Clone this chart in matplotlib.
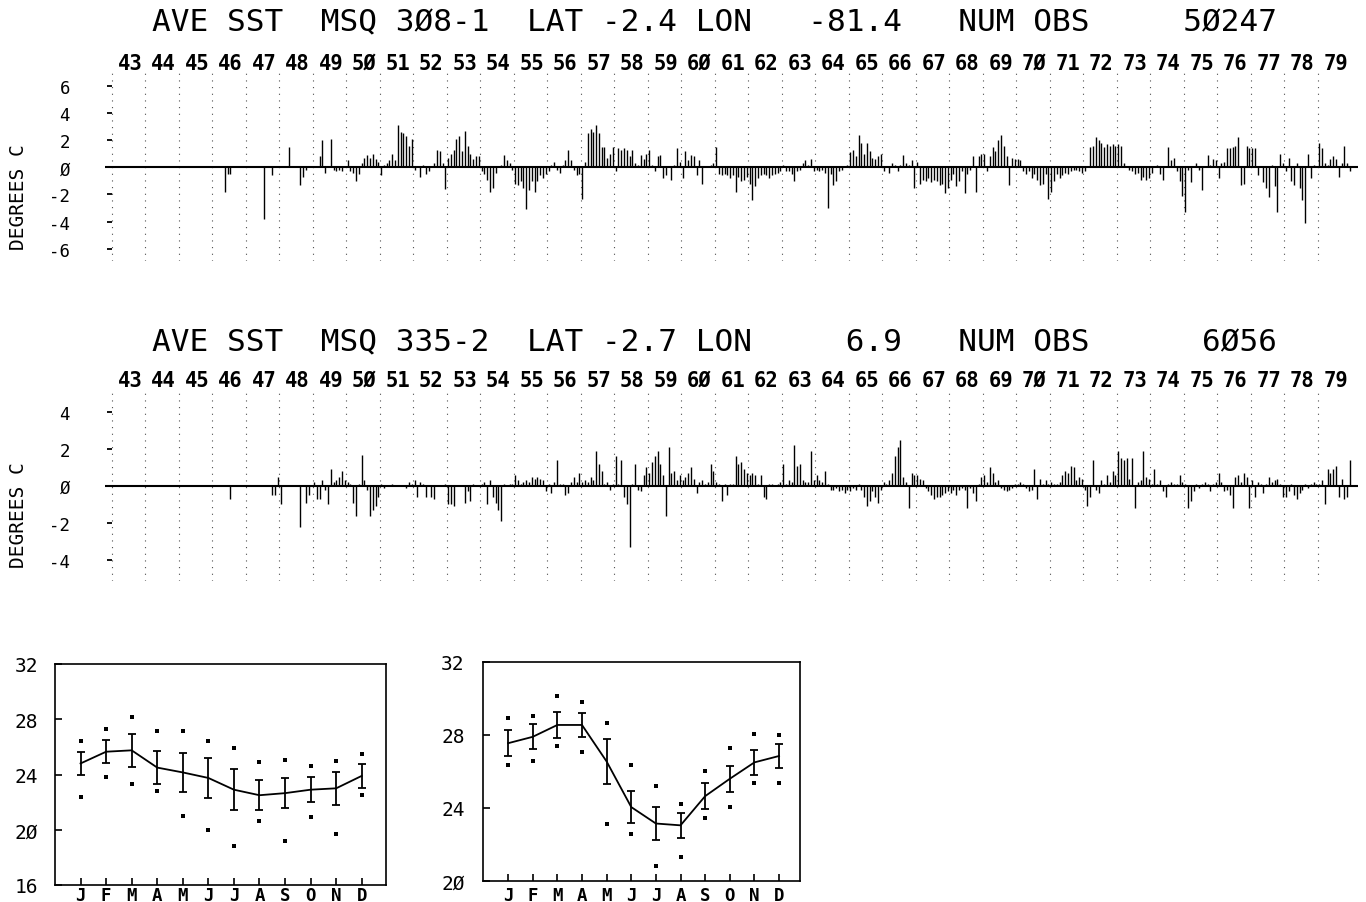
import matplotlib.pyplot as plt
import numpy as np

# monthly SST anomalies (deg C), Jan 1943 .. Dec 1979, one row per year
anom_308 = [
    0, 0, 0, 0, 0, 0, 0, 0, 0, 0, 0, 0,                                # 43
    0, 0, 0, 0, 0, 0, 0, 0, 0, 0, 0, 0,                                # 44
    0, 0, 0, 0, 0, 0, 0, 0, 0, 0, 0, 0,                                # 45
    0, 0, 0, 0, -1.8, -0.5, -0.5, 0, 0, 0, 0, 0,                       # 46
    0, 0, 0, 0, 0, 0, -3.8, 0, 0, -0.6, 0, 0,                          # 47
    0, 0, 0, 1.5, 0, 0, 0, -1.3, -0.7, -0.2, 0, 0,                     # 48
    0, 0, 0.8, 2.0, -0.4, 0, 2.1, -0.2, -0.3, -0.2, -0.3, 0.1,         # 49
    0.5, -0.3, -0.4, -1.0, -0.5, 0.3, 0.7, 0.9, 0.7, 1.0, 0.6, 0.4,    # 50
    -0.6, 0.2, 0.3, 0.5, 1.0, 0.5, 3.1, 2.6, 2.5, 2.3, 1.6, 2.1,       # 51
    -0.2, 0.1, -0.7, 0.2, -0.5, -0.3, 0.1, 0.3, 1.3, 1.2, 0.3, -1.6,   # 52
    0.7, 1.0, 1.3, 2.1, 2.3, 1.2, 2.7, 1.6, 1.0, 0.6, 0.8, 0.8,        # 53
    -0.3, -0.5, -0.9, -1.8, -1.5, -0.4, 0.1, 0.2, 0.9, 0.5, 0.3, -0.2, # 54
    -1.2, -1.3, -1.0, -1.5, -3.1, -1.7, -1.0, -1.8, -1.0, -0.6, -0.8, -0.5,  # 55
    -0.3, 0.2, 0.4, -0.2, -0.4, 0.2, 0.5, 1.3, 0.5, -0.2, -0.6, -0.5,  # 56
    -2.3, 0.4, 2.5, 2.8, 2.6, 3.1, 2.5, 1.5, 1.5, 0.7, 1.0, 1.5,       # 57
    -0.3, 1.4, 1.3, 1.4, 1.3, 0.8, 1.3, 0.3, 0.2, 0.9, 0.6, 1.0,       # 58
    1.3, 0.2, -0.3, 0.8, 0.9, -0.8, -0.6, 0.1, -0.9, 0.2, 1.4, 0.4,    # 59
    -0.8, 1.2, 0.5, 0.9, 0.8, -0.6, 0.5, -1.2, 0.1, 0.1, 0.2, 0.3,     # 60
    1.5, -0.5, -0.6, -0.5, -0.6, -0.8, -0.6, -1.8, -0.7, -1.0, -0.9, -0.7,   # 61
    -1.2, -2.4, -1.4, -0.8, -0.6, -0.5, -0.6, -0.8, -0.6, -0.5, -0.4, -0.3,  # 62
    0.2, -0.3, -0.3, -0.5, -1.0, -0.3, -0.2, 0.3, 0.5, 0.2, 0.6, -0.3,  # 63
    -0.2, -0.3, -0.2, -0.4, -3.0, -0.5, -1.3, -1.0, -0.3, -0.2, 0.1, 0.2,  # 64
    1.1, 1.3, 0.8, 2.4, 1.8, 1.0, 1.8, 1.2, 0.7, 0.6, 0.8, 1.0,        # 65
    -0.3, 0.1, -0.4, 0.3, 0.2, -0.3, 0.2, 0.9, 0.3, 0.2, 0.5, -1.5,    # 66
    0.4, -1.2, -0.9, -1.0, -0.8, -1.1, -0.9, -1.0, -1.3, -1.2, -1.9, -1.5,  # 67
    -0.9, -0.5, -1.4, -1.0, -0.3, -1.9, -0.5, -0.2, 0.8, -1.8, 0.8, 1.0,   # 68
    1.0, -0.3, 0.8, 1.5, 1.2, 2.0, 2.4, 1.6, 0.8, -1.3, 0.7, 0.6,      # 69
    0.6, 0.5, -0.3, -0.5, -0.3, -0.8, -0.5, -0.9, -1.3, -1.2, -0.5, -2.3,  # 70
    -1.8, -1.0, -0.5, -0.8, -0.6, -0.4, -0.5, -0.3, -0.2, -0.2, -0.3, -0.4,  # 71
    -0.3, 0.1, 1.5, 1.6, 2.2, 2.0, 1.8, 1.5, 1.7, 1.6, 1.7, 1.6,       # 72
    1.7, 1.6, 0.3, 0.1, -0.2, -0.3, -0.5, -0.4, -0.9, -0.7, -0.9, -0.8,  # 73
    -0.4, 0.1, 0.2, -0.5, -0.9, 0.1, 1.5, 0.5, 0.7, -0.3, -1.0, -2.1,  # 74
    -3.3, -0.2, -1.1, 0.1, 0.3, -0.2, -1.7, 0.1, 0.9, 0.2, 0.6, 0.5,   # 75
    -0.8, 0.3, 0.4, 1.4, 1.4, 1.5, 1.6, 2.2, -1.3, -1.2, 1.6, 1.4,     # 76
    1.4, 1.4, -0.6, 0.1, -1.1, -1.5, -2.2, 0.2, -1.4, -3.3, 1.0, 0.3,  # 77
    -0.3, 0.7, -1.0, -1.3, 0.3, -1.5, -2.4, -4.1, 1.0, -0.8, 0.2, 0.1, # 78
    1.8, 1.4, 0.3, 0.2, 0.6, 0.8, 0.6, -0.7, 0.3, 1.6, 0.3, -0.3,      # 79
]

anom_335 = [
    0, 0, 0, 0, 0, 0, 0, 0, 0, 0, 0, 0,                                # 43
    0, 0, 0, 0, 0, 0, 0, 0, 0, 0, 0, 0,                                # 44
    0, 0, 0, 0, 0, 0, 0, 0, 0, 0, 0, 0,                                # 45
    0, 0, 0, 0, 0, 0, -0.7, 0, 0, 0, 0, 0,                             # 46
    0, 0, 0, 0, 0, 0, 0, 0, 0, -0.5, -0.5, 0.5,                        # 47
    -1.0, 0, 0, 0, 0, 0, 0, -2.2, 0, -0.9, -0.5, 0,                    # 48
    0.2, -0.7, -0.7, 0.3, -0.2, -1.0, 0.9, 0.2, 0.3, 0.5, 0.8, 0.3,    # 49
    0.2, 0.1, -0.9, -1.6, 0.1, 1.7, 0.3, -0.2, -1.6, -1.3, -1.1, -0.6, # 50
    0.1, -0.1, 0, 0, 0.1, 0, 0, 0, 0, -0.1, 0.2, 0.1,                  # 51
    0.3, -0.6, 0.2, 0.1, -0.6, 0, -0.6, -0.7, 0, 0, 0, 0.1,            # 52
    -1.0, -1.0, -1.1, 0, 0, 0, -0.9, -0.3, -0.8, 0.1, 0, 0,            # 53
    0.1, 0.2, -1.0, 0.3, -0.6, -0.9, -1.3, -1.9, 0.1, 0, 0.1, 0.1,     # 54
    0.6, 0.3, 0.1, 0.2, 0.3, 0.2, 0.5, 0.4, 0.5, 0.4, 0.3, -0.3,       # 55
    0.1, -0.4, 0.2, 1.4, 0.1, 0.1, -0.5, -0.4, 0.2, 0.5, 0.2, 0.7,     # 56
    0.2, 0.3, 0.2, 0.5, 0.3, 1.9, 1.2, 0.8, 0.1, 0.2, -0.2, 0.1,       # 57
    1.6, 0.1, 1.4, -0.6, -1.0, -3.3, 0.1, 1.2, -0.2, -0.3, 0.6, 1.0,   # 58
    0.7, 1.3, 1.6, 1.9, 1.2, 0.6, -1.6, 2.1, 0.7, 0.8, 0.3, 0.6,       # 59
    0.3, 0.5, 0.7, 1.0, 0.4, -0.4, 0.2, 0.3, 0.1, 0.2, 1.2, 0.8,       # 60
    0.2, 0.1, -0.8, 0.1, -0.5, 0.1, 0.1, 1.6, 1.2, 1.3, 0.9, 0.7,      # 61
    0.6, 0.7, 0.6, 0.1, 0.6, -0.6, -0.7, 0.1, 0.1, 0, 0.1, 0.2,        # 62
    1.2, 0.1, 0.3, 0.2, 2.2, 1.1, 1.2, 0.3, 0.2, 0.2, 1.9, 0.3,        # 63
    0.6, 0.3, 0.2, 0.8, 0.1, -0.2, -0.2, -0.1, -0.3, -0.2, -0.4, -0.2, # 64
    -0.3, -0.1, -0.2, 0.1, -0.2, -0.6, -1.1, -0.8, -0.3, -0.6, -0.9, -0.2,  # 65
    0.2, 0.1, 0.3, 0.7, 1.6, 2.1, 2.5, 0.5, 0.2, -1.2, 0.7, 0.6,       # 66
    0.6, 0.4, 0.3, -0.1, -0.3, -0.5, -0.7, -0.6, -0.6, -0.5, -0.4, -0.3,  # 67
    -0.4, -0.2, -0.5, -0.2, -0.1, -0.2, -1.2, -0.1, -0.4, -0.8, 0.1, 0.5,  # 68
    0.6, 0.2, 1.0, 0.7, 0.2, 0.3, -0.1, -0.2, -0.3, -0.2, -0.1, 0.1,   # 69
    0.1, 0.2, 0.1, -0.1, -0.3, -0.2, 0.9, -0.7, 0.4, 0.1, 0.3, 0.1,    # 70
    0.2, 0.1, 0.1, 0.2, 0.6, 0.8, 0.7, 1.1, 1.0, 0.3, 0.5, 0.4,        # 71
    -0.2, -1.1, -0.6, 1.4, -0.2, -0.4, 0.3, 0.1, 0.6, 0.2, 0.8, 0.6,   # 72
    1.9, 1.5, 1.4, 1.5, 0.4, 1.5, -1.2, 0.2, 0.3, 1.9, 0.5, 0.4,       # 73
    0.1, 0.9, 0.1, 0.3, -0.3, -0.6, 0.1, 0.2, 0.1, 0.1, 0.6, 0.2,      # 74
    0.1, -1.2, -0.8, -0.3, 0.1, -0.1, 0.1, 0.2, 0.1, -0.3, 0.1, 0.2,   # 75
    0.7, 0.2, -0.3, -0.2, -0.5, -1.2, 0.5, 0.6, 0.2, 0.7, 0.5, -1.2,   # 76
    0.3, -0.6, 0.2, 0.1, -0.4, 0.1, 0.5, 0.2, 0.3, 0.4, 0.1, -0.6,     # 77
    -0.6, -0.3, 0.1, -0.5, -0.7, -0.4, -0.2, 0.1, -0.1, 0.1, 0.2, 0.1, # 78
    0.1, 0.3, -1.0, 0.9, 0.7, 0.9, 1.1, -0.6, 0.4, -0.7, -0.6, 1.4,    # 79
]

years = list(range(1943, 1980))

# monthly climatology: mean, +/- one sd bar, and the outer points
months = ['J', 'F', 'M', 'A', 'M', 'J', 'J', 'A', 'S', 'O', 'N', 'D']
mean_308 = [24.8, 25.65, 25.75, 24.5, 24.15, 23.75, 22.9, 22.5, 22.65, 22.9, 23.0, 23.9]
sd_308 = [0.86, 0.83, 1.18, 1.21, 1.42, 1.47, 1.49, 1.10, 1.10, 0.90, 1.19, 0.86]
hi_308 = [26.4, 27.3, 28.15, 27.15, 27.15, 26.4, 25.9, 24.9, 25.05, 24.6, 24.95, 25.5]
lo_308 = [22.4, 23.8, 23.3, 22.8, 21.0, 20.0, 18.8, 20.6, 19.2, 20.9, 19.7, 22.5]

mean_335 = [27.55, 27.9, 28.55, 28.55, 26.55, 24.05, 23.15, 23.05, 24.65, 25.6, 26.5, 26.85]
sd_335 = [0.72, 0.69, 0.73, 0.64, 1.23, 0.87, 0.89, 0.69, 0.73, 0.70, 0.69, 0.64]
hi_335 = [28.95, 29.05, 30.15, 29.8, 28.65, 26.35, 25.2, 24.2, 26.05, 27.3, 28.05, 28.0]
lo_335 = [26.35, 26.6, 27.4, 27.05, 23.1, 22.55, 20.8, 21.3, 23.45, 24.05, 25.35, 25.35]

title_308 = 'AVE SST  MSQ 3Ø8-1  LAT -2.4 LON   -81.4   NUM OBS     5Ø247'
title_335 = 'AVE SST  MSQ 335-2  LAT -2.7 LON     6.9   NUM OBS      6Ø56'

MONO = 'DejaVu Sans Mono'
W, H = 1366, 903

fig = plt.figure(figsize=(W / 100, H / 100), dpi=100)


def axes_px(l, t, r, b):
    return fig.add_axes([l / W, 1 - b / H, (r - l) / W, (b - t) / H])


def slashed(s):
    return s.replace('0', 'Ø')


def anomaly_panel(ax, values, ylim, yticks, label_y, ylab_y):
    values = np.asarray(values)
    n = len(values)
    ax.set_xlim(-2.5, n + 2.5)
    ax.set_ylim(*ylim)
    for s in ax.spines.values():
        s.set_visible(False)
    # dotted year boundaries
    ax.vlines(np.arange(0, n, 12), ylim[0], ylim[1], colors='0.3',
              linestyles=(0, (1, 5)), lw=0.8)
    ax.axhline(0, color='k', lw=1.5)
    ax.vlines(np.arange(n) + 0.5, 0, values, colors='k', lw=1.0)
    # little dashes standing in for y ticks
    ax.hlines(yticks, -1.7, 0.1, colors='k', lw=1.3)
    ax.set_xticks([])
    ax.set_yticks(yticks, [slashed(str(v)) for v in yticks], family=MONO)
    ax.tick_params(axis='y', length=0, pad=25, labelsize=12.5)
    for i, y in enumerate(years):
        ax.text(i * 12 + 6.5, label_y, slashed(f'{y % 100:02d}'),
                transform=ax.get_xaxis_transform(), ha='center', va='center',
                fontsize=14.8, fontweight='bold', family=MONO)
    ax.text(-0.069, ylab_y, 'DEGREES C', rotation=90, transform=ax.transAxes,
            ha='center', va='center', fontsize=14, family=MONO)


def climatology_box(ax, mean, sd, hi, lo, ylim, yticks, ypad, xpad):
    x = np.arange(12)
    ax.errorbar(x, mean, yerr=sd, color='k', lw=1.3, elinewidth=1.3,
                capsize=3, capthick=1.3)
    ax.plot(x, hi, 's', ms=2.2, color='k', mew=0)
    ax.plot(x, lo, 's', ms=2.2, color='k', mew=0)
    ax.set_ylim(*ylim)
    ax.set_xticks(x, months, fontweight='bold', family=MONO)
    ax.set_yticks(yticks, [slashed(str(v)) for v in yticks], family=MONO)
    ax.tick_params(direction='in', length=5, width=1.2)
    ax.tick_params(axis='y', pad=ypad, labelsize=14)
    ax.tick_params(axis='x', pad=xpad, labelsize=12.5)
    for s in ax.spines.values():
        s.set_linewidth(1.2)


fig.text(152 / W, 1 - 23 / H, title_308, family=MONO, fontsize=22.4,
         ha='left', va='center')
fig.text(152 / W, 1 - 343 / H, title_335, family=MONO, fontsize=22.4,
         ha='left', va='center')

ax1 = axes_px(104.7, 72, 1358.3, 262)
anomaly_panel(ax1, anom_308, (-6.89, 7.08), [-6, -4, -2, 0, 2, 4, 6], 1.042, 0.342)

ax2 = axes_px(104.7, 393, 1358.3, 582)
anomaly_panel(ax2, anom_335, (-5.14, 5.08), [-4, -2, 0, 2, 4], 1.063, 0.354)

ax3 = axes_px(55, 665, 386, 886)
climatology_box(ax3, mean_308, sd_308, hi_308, lo_308, (16, 32),
                [16, 20, 24, 28, 32], 12, 1)
ax3.set_xlim(-1, 11.95)

ax4 = axes_px(482.7, 663, 800, 882)
climatology_box(ax4, mean_335, sd_335, hi_335, lo_335, (20, 32),
                [20, 24, 28, 32], 13, 3.5)
ax4.set_xlim(-1.03, 11.85)

fig.savefig('out.png', dpi=100)
